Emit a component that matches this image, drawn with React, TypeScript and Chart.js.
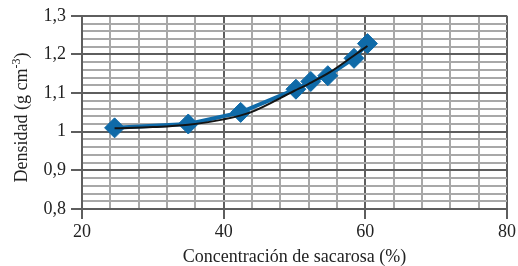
import React, { useEffect, useRef } from "react";
import { Chart, registerables } from "chart.js";

Chart.register(...registerables);

// Measured points (x = concentración %, y = densidad)
const pointX = [24.6, 35, 42.4, 50.2, 52.3, 54.7, 58.4, 60.3];
const pointY = [1.01, 1.02, 1.05, 1.11, 1.13, 1.145, 1.19, 1.228];

// Trend line (black)
const trendX = [24.6, 30, 35, 40, 43.8, 50, 52, 55, 58, 60.3];
const trendY = [1.009, 1.012, 1.018, 1.032, 1.05, 1.106, 1.124, 1.154, 1.192, 1.222];

const xTitle = "Concentración de sacarosa (%)";
const yTitleMain = "Densidad (g cm";
const yTitleSup = "-3";
const yTitleEnd = ")";

const BLUE = "#0f6aa8";
const MAJOR = "#5e5e5e";
const MINOR = "#a8a8a8";
const TEXT = "#222";
const FONT = "'Liberation Serif', 'Times New Roman', serif";

const isMajorX = (v: number) => Math.round(v) % 20 === 0;
const isMajorY = (v: number) => Math.round(v * 100) % 10 === 0;

const yTitlePlugin = {
  id: "yTitleSup",
  afterDraw(chart: any) {
    const ctx = chart.ctx as CanvasRenderingContext2D;
    const big = `18px ${FONT}`;
    const small = `12px ${FONT}`;
    ctx.save();
    ctx.font = big;
    const w1 = ctx.measureText(yTitleMain).width;
    const w3 = ctx.measureText(yTitleEnd).width;
    ctx.font = small;
    const w2 = ctx.measureText(yTitleSup).width;
    const total = w1 + w2 + w3;
    const cx = 27;
    const cy = (chart.chartArea.top + chart.chartArea.bottom) / 2 + 5;
    ctx.translate(cx, cy);
    ctx.rotate(-Math.PI / 2);
    ctx.fillStyle = TEXT;
    ctx.textAlign = "left";
    ctx.textBaseline = "alphabetic";
    let x = -total / 2;
    ctx.font = big;
    ctx.fillText(yTitleMain, x, 0);
    x += w1;
    ctx.font = small;
    ctx.fillText(yTitleSup, x, -7);
    x += w2;
    ctx.font = big;
    ctx.fillText(yTitleEnd, x, 0);
    ctx.restore();
  },
};

export default function App() {
  const ref = useRef<HTMLCanvasElement | null>(null);

  useEffect(() => {
    document.body.style.margin = "0";
    const ctx = ref.current!;
    const chart = new Chart(ctx, {
      type: "scatter",
      data: {
        datasets: [
          {
            label: "Tendencia",
            data: trendX.map((x, i) => ({ x, y: trendY[i] })),
            showLine: true,
            borderColor: "#141414",
            borderWidth: 2,
            pointRadius: 0,
            tension: 0.4,
            cubicInterpolationMode: "monotone",
            order: 0,
          },
          {
            label: "Densidad",
            data: pointX.map((x, i) => ({ x, y: pointY[i] })),
            showLine: true,
            borderColor: BLUE,
            borderWidth: 4,
            backgroundColor: BLUE,
            pointStyle: "rectRot",
            pointRadius: 10,
            pointBorderWidth: 1,
            pointBorderColor: BLUE,
            pointBackgroundColor: BLUE,
            order: 1,
          },
        ],
      },
      options: {
        responsive: false,
        animation: false,
        layout: { padding: { top: 15, right: 8, left: 0, bottom: 0 } },
        plugins: { legend: { display: false }, tooltip: { enabled: false } },
        scales: {
          x: {
            type: "linear",
            min: 20,
            max: 80,
            afterFit: (s: any) => {
              s.height = 57;
            },
            ticks: {
              stepSize: 4,
              autoSkip: false,
              maxRotation: 0,
              color: TEXT,
              font: { family: FONT, size: 18 },
              padding: 2,
              callback: (v: any) => (isMajorX(Number(v)) ? String(Math.round(Number(v))) : ""),
            },
            grid: {
              color: (c: any) => (isMajorX(c.tick.value) ? MAJOR : MINOR),
              lineWidth: 2,
              tickLength: 10,
              tickColor: (c: any) => (isMajorX(c.tick.value) ? MAJOR : "rgba(0,0,0,0)"),
            },
            border: { color: MAJOR, width: 2 },
            title: {
              display: true,
              text: xTitle,
              color: TEXT,
              font: { family: FONT, size: 18, lineHeight: 1.0 },
              padding: { top: 0, bottom: 0 },
            },
          },
          y: {
            type: "linear",
            min: 0.8,
            max: 1.3,
            afterFit: (s: any) => {
              s.width = 82;
            },
            ticks: {
              stepSize: 0.02,
              autoSkip: false,
              color: TEXT,
              font: { family: FONT, size: 18 },
              padding: 5,
              callback: (v: any) => {
                const n = Math.round(Number(v) * 100);
                if (n % 10 !== 0) return "";
                if (n === 100) return "1";
                return (n / 100).toFixed(1).replace(".", ",");
              },
            },
            grid: {
              color: (c: any) => (isMajorY(c.tick.value) ? MAJOR : MINOR),
              lineWidth: 2,
              tickLength: 11,
              tickColor: (c: any) => (isMajorY(c.tick.value) ? MAJOR : "rgba(0,0,0,0)"),
            },
            border: { color: MAJOR, width: 2 },
            title: { display: false },
          },
        },
      },
      plugins: [yTitlePlugin],
    } as any);
    return () => chart.destroy();
  }, []);

  return <canvas ref={ref} width={518} height={266} style={{ display: "block" }} />;
}
